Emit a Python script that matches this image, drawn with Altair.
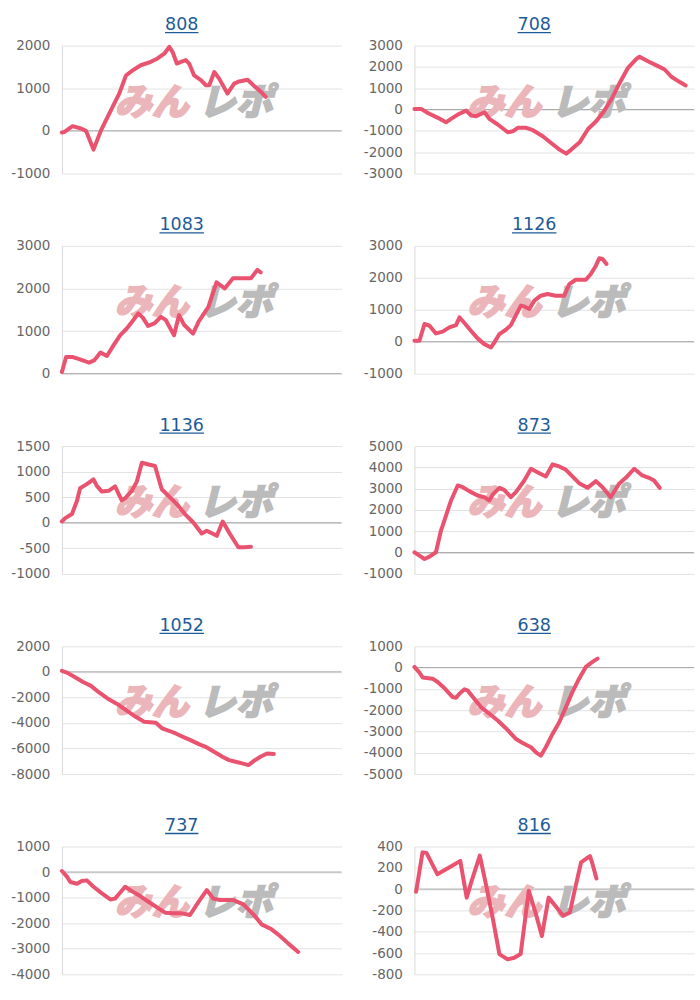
import altair as alt
import pandas as pd

# ---- data (x = position along the session, 0-100; y = balance) ----
x808 = [0, 0.8, 3.8, 6.8, 8.6, 11.3, 13.9, 17.5, 20.5, 22.9, 25.3, 28.2, 31.8, 34.2, 36.6, 38.4, 39.6,
        41.1, 42.6, 44.3, 45.5, 47.3, 49.7, 51.5, 52.7, 54.5, 56.3, 59.2, 61.6, 63.4, 66.4, 68.8, 71.2, 72.9]
y808 = [-40, -30, 110, 55, 0, -440, 0, 480, 875, 1300, 1420, 1540, 1620, 1700, 1810, 1970, 1850,
        1580, 1620, 1660, 1580, 1300, 1190, 1070, 1070, 1380, 1220, 875, 1110, 1160, 1200, 1050, 915, 800]

x708 = [0, 2.4, 4.8, 8.4, 11.3, 13.1, 15.5, 18.5, 20.3, 22.1, 23.9, 25.1, 26.8, 29.8, 33.4, 35.2, 37.0,
        40.0, 42.4, 45.9, 48.9, 51.9, 54.3, 56.1, 59.1, 62.1, 65.0, 67.4, 70.4, 73.4, 76.4, 79.4, 80.5,
        83.5, 87.1, 89.5, 91.9, 94.9, 97.0]
y708 = [30, 30, -160, -390, -600, -440, -235, -50, -280, -315, -200, -125, -440, -700, -1065, -1020, -860,
        -860, -970, -1250, -1570, -1880, -2070, -1880, -1540, -910, -550, -155, 470, 1250, 1960, 2380, 2480,
        2270, 2040, 1880, 1540, 1290, 1130]

x1083 = [0, 1.5, 3.9, 6.2, 9.7, 11.5, 13.8, 16.1, 18.5, 20.8, 23.2, 25.5, 27.3, 29.0, 30.8, 33.1, 35.4,
         37.2, 40.1, 41.9, 43.6, 46.9, 48.9, 52.4, 55.3, 58.2, 61.2, 63.5, 67.6, 69.9, 71.1]
y1083 = [40, 390, 390, 340, 260, 310, 495, 415, 670, 900, 1060, 1255, 1415, 1310, 1120, 1180, 1335,
         1255, 900, 1375, 1155, 940, 1220, 1570, 2145, 2000, 2240, 2240, 2240, 2435, 2380]

x1126 = [0, 1.8, 3.6, 5.4, 7.7, 10.1, 12.5, 14.9, 16.1, 17.9, 20.2, 22.6, 25.0, 27.4, 28.6, 30.4, 32.7,
         34.5, 36.3, 38.1, 39.3, 41.1, 42.9, 45.2, 47.6, 50.6, 53.6, 55.4, 57.7, 61.3, 63.1, 64.9, 66.1,
         67.3, 68.7]
y1126 = [30, 30, 555, 500, 260, 315, 450, 520, 760, 585, 345, 105, -75, -180, -20, 240, 375,
         520, 835, 1130, 1105, 1025, 1285, 1440, 1495, 1440, 1440, 1805, 1940, 1940, 2120, 2380, 2610,
         2590, 2435]

x1136 = [0, 1.2, 3.6, 5.4, 6.5, 8.9, 11.3, 12.5, 14.3, 16.7, 19.0, 21.4, 22.6, 25.0, 26.8, 28.6, 31.0,
         33.3, 35.7, 38.1, 41.1, 44.0, 47.0, 50.0, 51.8, 55.4, 57.5, 60.1, 63.1, 65.5, 67.6]
y1136 = [25, 90, 170, 430, 675, 755, 850, 720, 610, 625, 710, 440, 480, 625, 805, 1175, 1140,
         1110, 655, 525, 365, 170, 5, -210, -155, -255, 25, -220, -480, -480, -470]

x873 = [0, 1.8, 3.6, 5.4, 7.7, 9.5, 11.3, 13.1, 15.5, 17.3, 19.6, 22.6, 25.0, 26.8, 28.0, 30.4, 32.1,
        34.5, 36.3, 39.3, 41.7, 44.0, 47.0, 49.4, 51.8, 54.2, 56.5, 58.9, 61.9, 64.9, 67.3, 70.2, 73.2,
        75.6, 78.6, 81.5, 83.9, 85.7, 87.7]
y873 = [15, -140, -300, -190, 15, 1035, 1740, 2445, 3150, 3070, 2885, 2680, 2600, 2445, 2725, 3040, 2945,
        2600, 2835, 3385, 3935, 3775, 3575, 4140, 4045, 3885, 3575, 3260, 3040, 3355, 3070, 2600, 3230,
        3510, 3935, 3620, 3510, 3385, 3040]

x1052 = [0, 2.0, 4.4, 7.4, 10.4, 13.3, 16.3, 19.9, 22.9, 26.4, 29.4, 33.6, 35.9, 38.3, 40.7, 43.7, 46.0,
         49.0, 51.4, 54.4, 57.4, 59.8, 62.1, 64.5, 66.7, 68.7, 71.0, 73.4, 75.8]
y1052 = [80, -80, -390, -780, -1095, -1615, -2085, -2530, -3000, -3520, -3910, -3985, -4430, -4610, -4820,
         -5130, -5340, -5655, -5865, -6255, -6645, -6905, -7035, -7165, -7295, -6960, -6645, -6385, -6435]

x638 = [0, 1.8, 3.0, 6.5, 8.3, 10.7, 13.7, 14.9, 16.1, 17.9, 19.0, 21.4, 23.8, 26.8, 29.8, 32.7, 36.3,
        38.7, 41.7, 43.5, 45.2, 47.0, 49.4, 51.8, 54.2, 56.5, 58.9, 61.3, 63.7, 65.5]
y638 = [30, -235, -470, -520, -675, -960, -1385, -1415, -1225, -1020, -1070, -1460, -1855, -2170, -2485,
        -2845, -3350, -3540, -3740, -3980, -4135, -3740, -3115, -2565, -1855, -1150, -520, 30, 265, 425]

x737 = [0, 1.8, 3.0, 5.4, 7.1, 8.9, 11.3, 14.3, 17.3, 19.0, 20.8, 22.6, 25.0, 28.0, 31.5, 35.1, 36.9,
        39.9, 42.9, 45.8, 48.8, 51.8, 54.2, 56.5, 61.3, 64.9, 68.5, 71.4, 75.0, 78.0, 80.9, 84.5]
y737 = [40, -180, -390, -455, -350, -325, -575, -835, -1070, -1040, -810, -575, -745, -940, -1200, -1460,
        -1590, -1615, -1615, -1680, -1175, -705, -1040, -1095, -1095, -1265, -1655, -2045, -2240, -2500,
        -2790, -3125]

x816 = [0.6, 2.9, 4.3, 8.2, 9.9, 13.5, 16.4, 18.7, 20.5, 23.4, 25.7, 28.1, 30.4, 33.3, 35.7, 38.0, 40.9,
        43.3, 45.6, 48.0, 50.3, 53.2, 55.6, 57.3, 59.6, 61.4, 62.8, 63.7, 65.1]
y816 = [-25, 345, 340, 140, 165, 220, 265, -80, 80, 315, 30, -285, -610, -660, -645, -610, -15, -220,
        -440, -80, -155, -250, -220, -15, 250, 285, 310, 235, 100]

ticks808 = [-1000, 0, 1000, 2000]
ticks708 = [-3000, -2000, -1000, 0, 1000, 2000, 3000]
ticks1083 = [0, 1000, 2000, 3000]
ticks1126 = [-1000, 0, 1000, 2000, 3000]
ticks1136 = [-1000, -500, 0, 500, 1000, 1500]
ticks873 = [-1000, 0, 1000, 2000, 3000, 4000, 5000]
ticks1052 = [-8000, -6000, -4000, -2000, 0, 2000]
ticks638 = [-5000, -4000, -3000, -2000, -1000, 0, 1000]
ticks737 = [-4000, -3000, -2000, -1000, 0, 1000]
ticks816 = [-800, -600, -400, -200, 0, 200, 400]

panels_spec = [
    ("808", x808, y808, ticks808),
    ("708", x708, y708, ticks708),
    ("1083", x1083, y1083, ticks1083),
    ("1126", x1126, y1126, ticks1126),
    ("1136", x1136, y1136, ticks1136),
    ("873", x873, y873, ticks873),
    ("1052", x1052, y1052, ticks1052),
    ("638", x638, y638, ticks638),
    ("737", x737, y737, ticks737),
    ("816", x816, y816, ticks816),
]

LINE = "#E9536F"
LINK = "#1D5B98"
ZERO = "#a6a6a6"
GRID = "#e2e2e2"
WM_PINK = "#EBB6BA"
WM_GRAY = "#BBBBBB"
W, H = 280, 128
TITLE_SIZE = 17.5
TITLE_X = 120


def panel(name, xs, ys, ticks):
    df = pd.DataFrame({"step": xs, "balance": ys})
    one = pd.DataFrame({"k": [0]})
    ysc = alt.Scale(domain=[ticks[0], ticks[-1]], nice=False, zero=False)
    xenc = alt.X("step:Q", scale=alt.Scale(domain=[0, 100], nice=False, zero=False), axis=None)
    yenc = alt.Y("balance:Q", scale=ysc,
                 axis=alt.Axis(values=ticks, tickCount=50, title=None, labelExpr="'' + datum.value",
                               grid=True, gridColor=GRID, labelOverlap=False, labelFlush=False))
    zero = alt.Chart(one).mark_rule(color=ZERO, strokeWidth=1).encode(y=alt.datum(0))
    wm1 = alt.Chart(one).mark_text(
        text="みん", font="Noto Sans CJK JP", fontSize=37, fontWeight=900, fontStyle="italic",
        fill=WM_PINK, stroke=WM_PINK, strokeWidth=1.6, align="left", baseline="middle",
    ).encode(x=alt.value(53), y=alt.value(58))
    wm2 = alt.Chart(one).mark_text(
        text="レポ", font="Noto Sans CJK JP", fontSize=37, fontWeight=900, fontStyle="italic",
        fill=WM_GRAY, stroke=WM_GRAY, strokeWidth=1.6, align="left", baseline="middle",
    ).encode(x=alt.value(137), y=alt.value(58))
    line = alt.Chart(df).mark_line(
        color=LINE, strokeWidth=4, strokeCap="round", strokeJoin="round"
    ).encode(x=xenc, y=yenc)
    title = alt.Chart(one).mark_text(
        text=name, font="DejaVu Sans", fontSize=TITLE_SIZE, color=LINK,
        align="center", baseline="alphabetic",
    ).encode(x=alt.value(TITLE_X), y=alt.value(-15.5))
    uw = len(name) * 0.636 * TITLE_SIZE
    underline = alt.Chart(one).mark_rule(color=LINK, strokeWidth=1.3).encode(
        x=alt.value(TITLE_X - uw / 2), x2=alt.value(TITLE_X + uw / 2), y=alt.value(-13)
    )
    return alt.layer(zero, wm1, wm2, line, title, underline).properties(width=W, height=H)


charts = [panel(*p) for p in panels_spec]

chart = alt.concat(
    *charts, columns=2, spacing={"row": 72.5, "column": 73}, bounds="flush"
).properties(
    padding={"left": 10, "top": 15, "right": 5, "bottom": 5}
).configure_view(stroke=None).configure_axis(
    labelFont="DejaVu Sans", labelFontSize=13.5, labelColor="#666666",
    gridColor=GRID, domainColor="#d9d9d9", ticks=False, labelPadding=12,
)

chart.save("out.html", embed_options={"renderer": "svg", "actions": False})
